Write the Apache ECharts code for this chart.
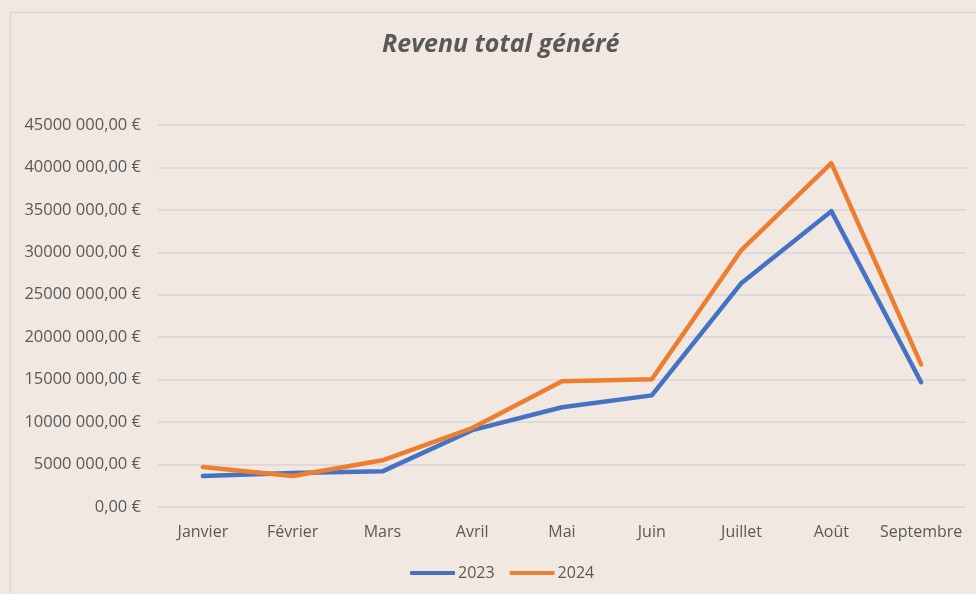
<!DOCTYPE html>
<html>
<head>
<meta charset="utf-8">
<script src="https://cdn.jsdelivr.net/npm/echarts@6/dist/echarts.min.js"></script>
<style>
  html, body { margin: 0; padding: 0; background: #F1E8E1; }
  #chart { width: 976px; height: 594px; }
</style>
</head>
<body>
<div id="chart"></div>
<script>
const months = ['Janvier', 'Février', 'Mars', 'Avril', 'Mai', 'Juin', 'Juillet', 'Août', 'Septembre']
const rev2023 = [3650000, 4000000, 4200000, 9050000, 11750000, 13150000, 26400000, 34850000, 14700000]
const rev2024 = [4700000, 3650000, 5500000, 9300000, 14800000, 15050000, 30300000, 40500000, 16800000]

const textColor = '#595959'
const font = '"Open Sans", "Liberation Sans", sans-serif'

// format Excel-like : "45000 000,00 €"
function euro (v) {
  if (v === 0) return '0,00 €'
  const thousands = Math.floor(v / 1000)
  const rest = String(v % 1000).padStart(3, '0')
  return thousands + ' ' + rest + ',00 €'
}

const chart = echarts.init(document.getElementById('chart'))
chart.setOption({
  backgroundColor: '#F1E8E1',
  textStyle: { fontFamily: font },
  graphic: [{
    type: 'rect',
    shape: { x: 10.5, y: 12.5, width: 980, height: 600 },
    style: { fill: 'none', stroke: '#D9D9D9', lineWidth: 1.5 },
    silent: true
  }],
  title: {
    text: 'Revenu total généré',
    left: 377,
    top: 27,
    textStyle: {
      color: textColor,
      fontSize: 25,
      fontWeight: 'bold',
      fontStyle: 'italic',
      fontFamily: font
    }
  },
  legend: {
    bottom: 8,
    left: 405,
    itemWidth: 45,
    itemHeight: 4,
    itemGap: 15,
    icon: 'roundRect',
    textStyle: { color: textColor, fontSize: 16, fontFamily: font, padding: [0, 0, 0, -2] },
    data: ['2023', '2024']
  },
  grid: { left: 158, right: 10, top: 125, bottom: 87 },
  xAxis: {
    type: 'category',
    data: months,
    boundaryGap: true,
    axisLine: { show: false },
    axisTick: { show: false },
    axisLabel: { color: textColor, fontSize: 16, margin: 17, interval: 0, fontFamily: font }
  },
  yAxis: {
    type: 'value',
    min: 0,
    max: 45000000,
    interval: 5000000,
    axisLine: { show: false },
    axisTick: { show: false },
    splitLine: { lineStyle: { color: '#D6D6D6', width: 1.5 } },
    axisLabel: { color: textColor, fontSize: 16.5, margin: 17, fontFamily: font, formatter: euro }
  },
  series: [
    {
      name: '2023',
      type: 'line',
      data: rev2023,
      symbol: 'none',
      color: '#4472C4',
      lineStyle: { width: 4.5, cap: 'round', join: 'round' }
    },
    {
      name: '2024',
      type: 'line',
      data: rev2024,
      symbol: 'none',
      color: '#ED7D31',
      lineStyle: { width: 4.5, cap: 'round', join: 'round' }
    }
  ]
})
</script>
</body>
</html>
